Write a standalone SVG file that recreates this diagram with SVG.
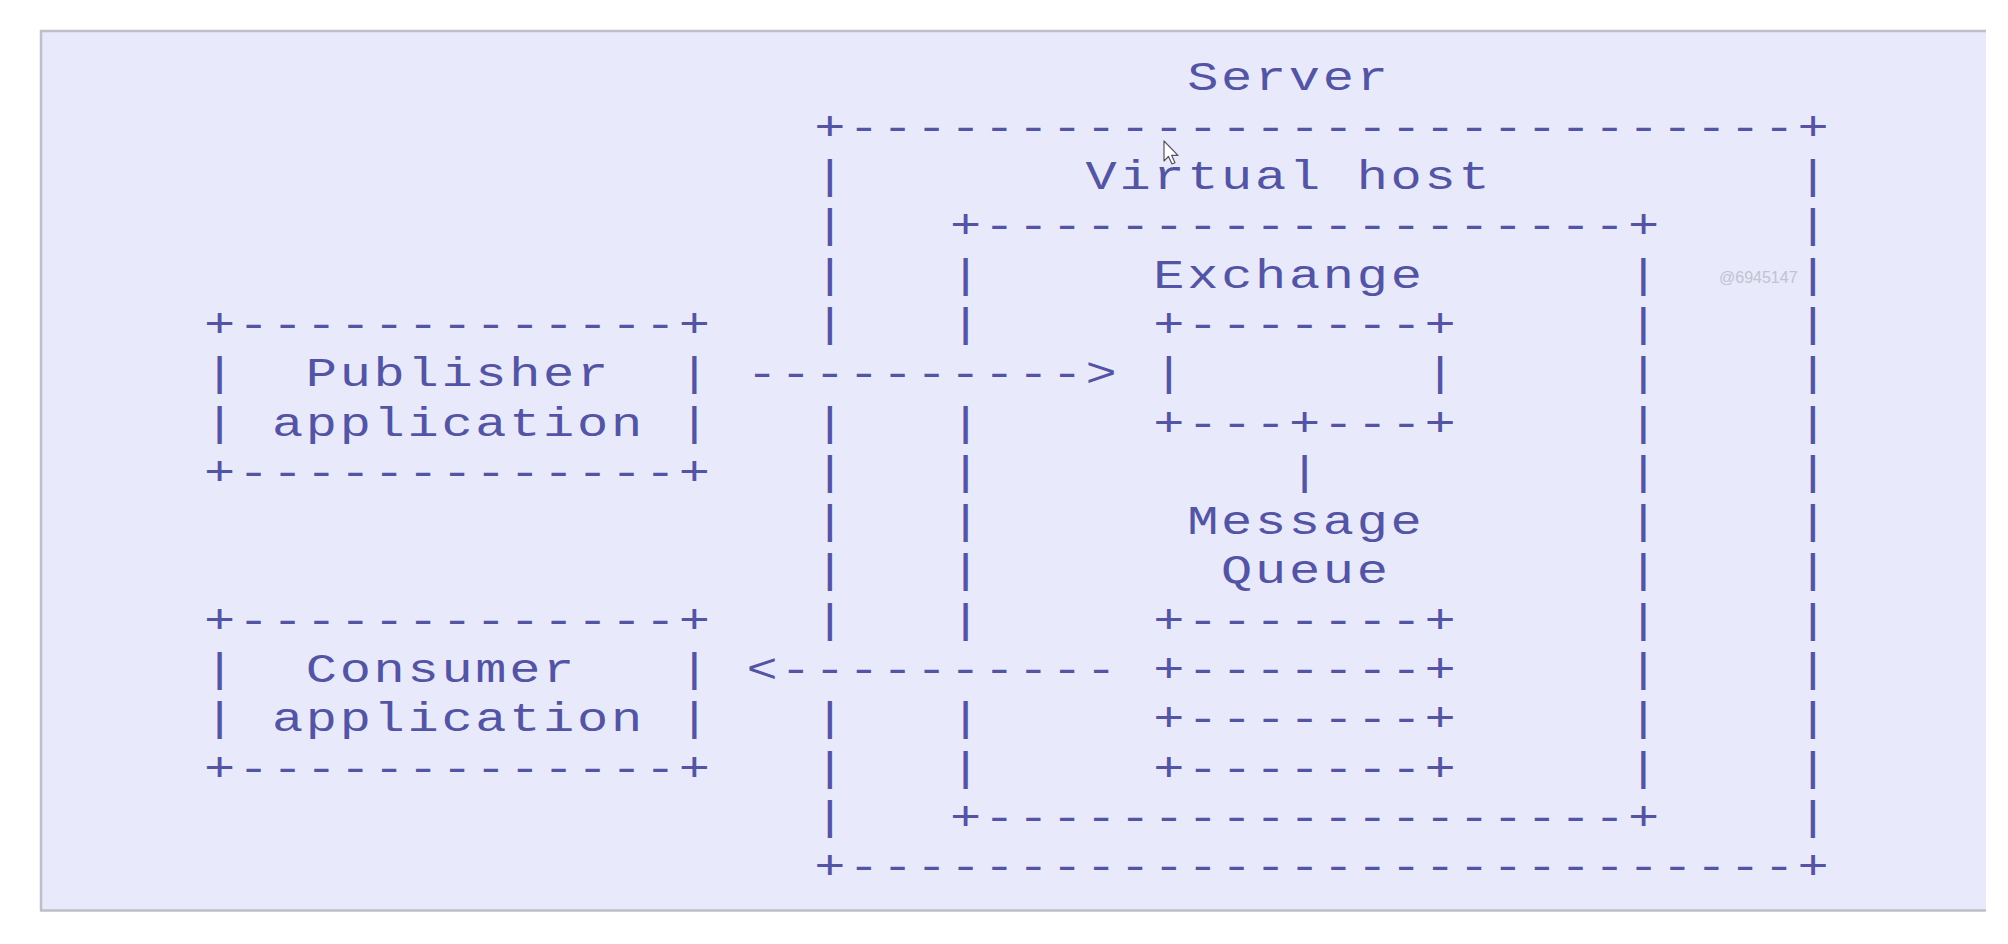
<svg xmlns="http://www.w3.org/2000/svg" width="2008" height="944" viewBox="0 0 2008 944">
<style>
.t{font-family:"Liberation Mono","DejaVu Sans Mono",monospace;font-size:40px;fill:#5454a4;letter-spacing:2.08px;white-space:pre}
.wm{font-family:"Liberation Sans",Arial,sans-serif;font-size:16px;fill:#c2c2d0}
</style>
<g id="background">
<rect x="0" y="0" width="2008" height="944" fill="#ffffff"/>
<rect x="40" y="30" width="1946" height="881" fill="#e8e9fb"/>
<path d="M41,911 V31 H1986 M40,910.5 H1986" fill="none" stroke="#bfbfc8" stroke-width="2.5"/>
<text class="wm" x="1719" y="283">@6945147</text>
</g>
<g id="server" transform="scale(1.3 1)">
<text class="t" x="913.2" y="90.5" xml:space="preserve">Server</text>
<text class="t" x="626.4" y="139.8" xml:space="preserve">+----------------------------+</text>
<text class="t">
<tspan x="626.4" y="189.1">|</tspan><tspan x="626.4" y="238.4">|</tspan><tspan x="626.4" y="287.7">|</tspan><tspan x="626.4" y="337.0">|</tspan><tspan x="626.4" y="435.6">|</tspan><tspan x="626.4" y="484.9">|</tspan><tspan x="626.4" y="534.2">|</tspan><tspan x="626.4" y="583.5">|</tspan><tspan x="626.4" y="632.8">|</tspan><tspan x="626.4" y="731.4">|</tspan><tspan x="626.4" y="780.7">|</tspan><tspan x="626.4" y="830.0">|</tspan>
<tspan x="1382.6" y="189.1">|</tspan><tspan x="1382.6" y="238.4">|</tspan><tspan x="1382.6" y="287.7">|</tspan><tspan x="1382.6" y="337.0">|</tspan><tspan x="1382.6" y="386.3">|</tspan><tspan x="1382.6" y="435.6">|</tspan><tspan x="1382.6" y="484.9">|</tspan><tspan x="1382.6" y="534.2">|</tspan><tspan x="1382.6" y="583.5">|</tspan><tspan x="1382.6" y="632.8">|</tspan><tspan x="1382.6" y="682.1">|</tspan><tspan x="1382.6" y="731.4">|</tspan><tspan x="1382.6" y="780.7">|</tspan><tspan x="1382.6" y="830.0">|</tspan>
</text>
<text class="t" x="626.4" y="879.3" xml:space="preserve">+----------------------------+</text>
</g>
<g id="virtual-host" transform="scale(1.3 1)">
<text class="t" x="835.0" y="189.1" xml:space="preserve">Virtual host</text>
<text class="t" x="730.7" y="238.4" xml:space="preserve">+-------------------+</text>
<text class="t">
<tspan x="730.7" y="287.7">|</tspan><tspan x="730.7" y="337.0">|</tspan><tspan x="730.7" y="435.6">|</tspan><tspan x="730.7" y="484.9">|</tspan><tspan x="730.7" y="534.2">|</tspan><tspan x="730.7" y="583.5">|</tspan><tspan x="730.7" y="632.8">|</tspan><tspan x="730.7" y="731.4">|</tspan><tspan x="730.7" y="780.7">|</tspan>
<tspan x="1252.2" y="287.7">|</tspan><tspan x="1252.2" y="337.0">|</tspan><tspan x="1252.2" y="386.3">|</tspan><tspan x="1252.2" y="435.6">|</tspan><tspan x="1252.2" y="484.9">|</tspan><tspan x="1252.2" y="534.2">|</tspan><tspan x="1252.2" y="583.5">|</tspan><tspan x="1252.2" y="632.8">|</tspan><tspan x="1252.2" y="682.1">|</tspan><tspan x="1252.2" y="731.4">|</tspan><tspan x="1252.2" y="780.7">|</tspan>
</text>
<text class="t" x="730.7" y="830.0" xml:space="preserve">+-------------------+</text>
</g>
<g id="exchange" transform="scale(1.3 1)">
<text class="t" x="887.2" y="287.7" xml:space="preserve">Exchange</text>
<text class="t" x="887.2" y="337.0" xml:space="preserve">+-------+</text>
<text class="t" x="887.2" y="386.3" xml:space="preserve">|       |</text>
<text class="t" x="887.2" y="435.6" xml:space="preserve">+---+---+</text>
</g>
<g id="message-queue" transform="scale(1.3 1)">
<text class="t" x="913.2" y="534.2" xml:space="preserve">Message</text>
<text class="t" x="939.3" y="583.5" xml:space="preserve">Queue</text>
<text class="t" x="887.2" y="632.8" xml:space="preserve">+-------+</text>
<text class="t" x="887.2" y="682.1" xml:space="preserve">+-------+</text>
<text class="t" x="887.2" y="731.4" xml:space="preserve">+-------+</text>
<text class="t" x="887.2" y="780.7" xml:space="preserve">+-------+</text>
</g>
<g id="publisher" transform="scale(1.3 1)">
<text class="t" x="157.0" y="337.0" xml:space="preserve">+-------------+</text>
<text class="t" x="157.0" y="386.3" xml:space="preserve">|  Publisher  |</text>
<text class="t" x="157.0" y="435.6" xml:space="preserve">| application |</text>
<text class="t" x="157.0" y="484.9" xml:space="preserve">+-------------+</text>
</g>
<g id="consumer" transform="scale(1.3 1)">
<text class="t" x="157.0" y="632.8" xml:space="preserve">+-------------+</text>
<text class="t" x="157.0" y="682.1" xml:space="preserve">|  Consumer   |</text>
<text class="t" x="157.0" y="731.4" xml:space="preserve">| application |</text>
<text class="t" x="157.0" y="780.7" xml:space="preserve">+-------------+</text>
</g>
<g id="connectors" transform="scale(1.3 1)">
<text class="t" x="574.2" y="386.3" xml:space="preserve">----------&gt;</text>
<text class="t" x="991.5" y="484.9" xml:space="preserve">|</text>
<text class="t" x="574.2" y="682.1" xml:space="preserve">&lt;----------</text>
</g>
<g id="cursor">
<path d="M1164,141 V161 L1168.5,156.5 L1172,164 L1175,162.7 L1171.6,155.3 L1178,155.3 Z" fill="#ffffff" stroke="#555560" stroke-width="1.2" stroke-linejoin="round"/>
</g>
</svg>
